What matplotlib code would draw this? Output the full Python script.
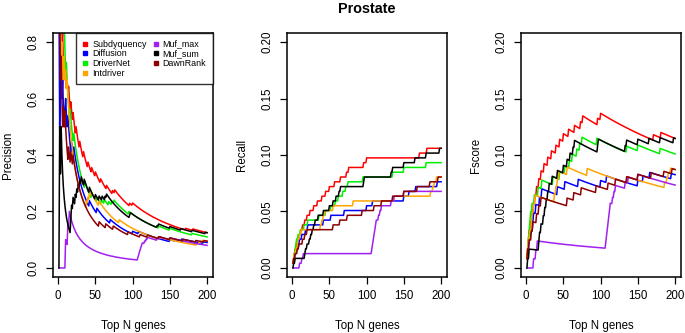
import numpy as np
import matplotlib
matplotlib.use("Agg")
import matplotlib.pyplot as plt
from matplotlib.lines import Line2D

plt.rcParams["font.family"] = ["Liberation Sans", "DejaVu Sans"]

# ── data: ranks (in the top-200 list) at which a true driver gene is hit ──
N_TOP = 200
TOTAL_POSITIVES = 236

methods = ["Subdyquency", "Diffusion", "DriverNet", "Intdriver",
           "Muf_max", "Muf_sum", "DawnRank"]
colors = ["#ff0000", "#0000ff", "#00ee00", "#ffa500",
          "#a020f0", "#000000", "#8b0000"]

hits_subdyquency = [1, 2, 3, 4, 6, 8, 10, 12, 14, 17, 20, 24, 29, 34, 40,
                    45, 50, 57, 65, 73, 76, 96, 100, 171, 181]
hits_diffusion = [1, 3, 4, 6, 9, 10, 13, 18, 21, 42, 52, 70, 100, 108,
                  150, 157, 166, 195]
hits_drivernet = [1, 2, 3, 4, 5, 6, 8, 11, 16, 21, 36, 45, 52, 58, 62, 68,
                  72, 75, 95, 135, 150, 180]
hits_intdriver = [1, 2, 3, 5, 7, 8, 10, 12, 38, 40, 42, 44, 55, 82, 137,
                  186, 189, 191, 194]
hits_muf_max = [10, 13, 15, 107, 108, 109, 110, 111, 112, 113, 116, 118,
                120, 133, 137, 150]
hits_muf_sum = [2, 4, 17, 18, 20, 23, 25, 27, 29, 31, 35, 42, 50, 55, 59,
                63, 65, 96, 97, 133, 135, 150, 165, 180, 198]
hits_dawnrank = [1, 2, 4, 7, 9, 14, 17, 20, 55, 64, 74, 94, 110, 120, 135,
                 150, 168, 185, 196]

all_hits = [hits_subdyquency, hits_diffusion, hits_drivernet, hits_intdriver,
            hits_muf_max, hits_muf_sum, hits_dawnrank]

top_n = np.arange(1, N_TOP + 1)


def scores(hit_ranks):
    found = np.zeros(N_TOP)
    found[np.array(hit_ranks) - 1] = 1
    tp = np.cumsum(found)
    prec = tp / top_n
    rec = tp / TOTAL_POSITIVES
    denom = prec + rec
    f = np.where(denom > 0, 2 * prec * rec / np.where(denom > 0, denom, 1), 0)
    return prec, rec, f


W, H = 685, 333
fig = plt.figure(figsize=(W / 100, H / 100), dpi=100)

panel_left = [53, 287, 521]
panel_w = 160
box_top, box_bottom = 33, 277

ylabels = ["Precision", "Recall", "Fscore"]
ylims = [0.8, 0.2, 0.2]
yticks = [np.arange(0, 0.81, 0.2), np.arange(0, 0.201, 0.05),
          np.arange(0, 0.201, 0.05)]
ytick_fmt = ["{:.1f}", "{:.2f}", "{:.2f}"]

axes = []
for i in range(3):
    ax = fig.add_axes([panel_left[i] / W, (H - box_bottom) / H,
                       panel_w / W, (box_bottom - box_top) / H])
    axes.append(ax)
    pad_x = 0.04 * (N_TOP - 1)
    ax.set_xlim(1 - pad_x, N_TOP + pad_x)
    ax.set_ylim(-0.04 * ylims[i], ylims[i] * 1.04)
    ax.set_xticks([0, 50, 100, 150, 200])
    ax.set_yticks(yticks[i])
    ax.set_yticklabels([ytick_fmt[i].format(v) for v in yticks[i]],
                       rotation=90, va="center")
    ax.tick_params(direction="out", length=5, width=0.9, labelsize=8.3,
                   pad=4.5)
    for sp in ax.spines.values():
        sp.set_linewidth(1.1)
    ax.set_xlabel("Top N genes", fontsize=8.3, labelpad=13)
    ax.set_ylabel(ylabels[i], fontsize=8.3, labelpad=10)

for hits, c in zip(all_hits, colors):
    prec, rec, f = scores(hits)
    for ax, vals in zip(axes, [prec, rec, f]):
        ax.plot(top_n, vals, color=c, lw=1.1)

handles = [Line2D([], [], marker="s", color=c, linestyle="none",
                  markersize=3.2) for c in colors]
leg = axes[0].legend(handles, methods, loc="upper right",
                     bbox_to_anchor=(1, 1), borderaxespad=0, ncol=2,
                     fontsize=6.4, frameon=True, fancybox=False,
                     handlelength=0.6, handletextpad=0.5, columnspacing=0.7,
                     labelspacing=0.08, borderpad=0.75)
leg.get_frame().set_edgecolor("black")
leg.get_frame().set_linewidth(1.0)

fig.text(367 / W, 1 - 9 / H, "Prostate", ha="center", va="center",
         fontsize=10.4, fontweight="bold")

fig.savefig("out.png", dpi=100)
